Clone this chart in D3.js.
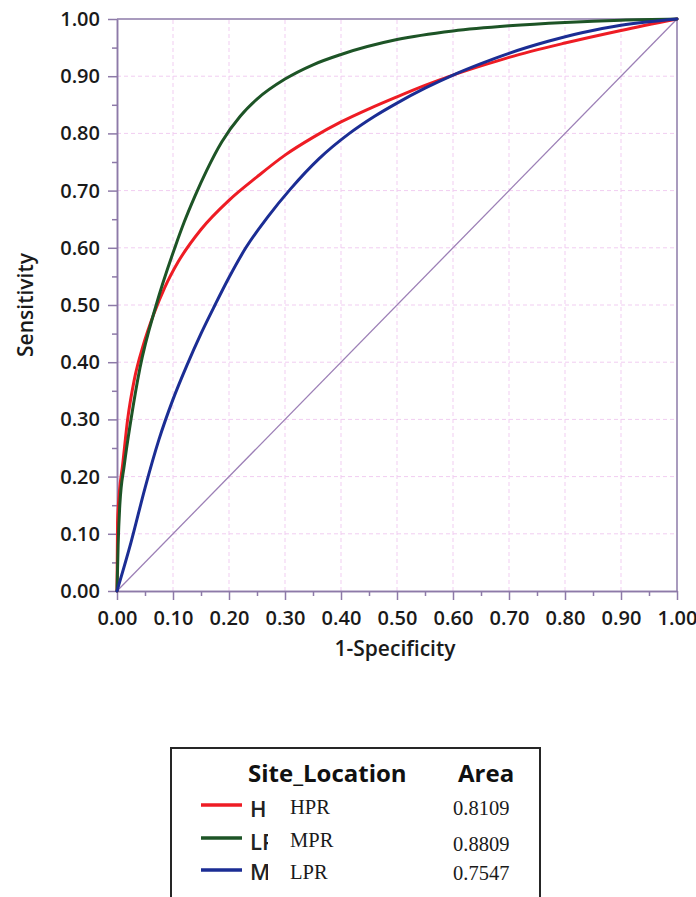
<!DOCTYPE html>
<html>
<head>
<meta charset="utf-8">
<script src="https://cdn.jsdelivr.net/npm/d3@7"></script>
<style>
  html, body { margin: 0; padding: 0; background: #ffffff; }
  svg { display: block; }
</style>
</head>
<body>
<svg id="chart" width="696" height="897"></svg>
<script>
// ROC curves by site location: false positive rate (1-Specificity) vs sensitivity
const fprHPR = [0, 0.001, 0.004, 0.01, 0.019, 0.031, 0.047, 0.066, 0.085, 0.109, 0.15, 0.2, 0.25, 0.3, 0.35, 0.4, 0.45, 0.5, 0.55, 0.6, 0.65, 0.7, 0.8, 0.9, 1];
const tprHPR = [0, 0.12, 0.17, 0.22, 0.3, 0.37, 0.43, 0.485, 0.53, 0.575, 0.632, 0.683, 0.724, 0.762, 0.793, 0.82, 0.843, 0.864, 0.884, 0.902, 0.918, 0.933, 0.958, 0.98, 1];

const fprMPR = [0, 0.002, 0.005, 0.013, 0.025, 0.041, 0.07, 0.105, 0.12, 0.139, 0.16, 0.187, 0.22, 0.25, 0.3, 0.35, 0.4, 0.5, 0.6, 0.7, 0.8, 0.9, 1];
const tprMPR = [0, 0.08, 0.15, 0.22, 0.3, 0.39, 0.5, 0.605, 0.645, 0.69, 0.735, 0.785, 0.83, 0.86, 0.895, 0.92, 0.938, 0.964, 0.979, 0.988, 0.994, 0.998, 1];

const fprLPR = [0, 0.025, 0.05, 0.075, 0.1, 0.125, 0.15, 0.175, 0.2, 0.23, 0.27, 0.31, 0.36, 0.415, 0.46, 0.5, 0.55, 0.6, 0.65, 0.7, 0.77, 0.83, 0.9, 1];
const tprLPR = [0, 0.085, 0.18, 0.265, 0.335, 0.395, 0.45, 0.5, 0.548, 0.6, 0.655, 0.703, 0.755, 0.8, 0.83, 0.853, 0.879, 0.902, 0.922, 0.94, 0.961, 0.976, 0.989, 1];

const majorTicks = [0, 0.1, 0.2, 0.3, 0.4, 0.5, 0.6, 0.7, 0.8, 0.9, 1.0];
const minorTicks = [0.05, 0.15, 0.25, 0.35, 0.45, 0.55, 0.65, 0.75, 0.85, 0.95];

// Legend rows (truncated level column, name, area under curve)
const legendLevels = ["HPR", "LPR", "MPR"];
const legendNames = ["HPR", "MPR", "LPR"];
const legendAreas = ["0.8109", "0.8809", "0.7547"];

const colors = { HPR: "#ee1c24", MPR: "#1d5426", LPR: "#1b2d94" };
const series = [
  { key: "HPR", fpr: fprHPR, tpr: tprHPR },
  { key: "MPR", fpr: fprMPR, tpr: tprMPR },
  { key: "LPR", fpr: fprLPR, tpr: tprLPR }
];
const legendColors = [colors.HPR, colors.MPR, colors.LPR];

const svg = d3.select("#chart");
const x = d3.scaleLinear().domain([0, 1]).range([117, 677]);
const y = d3.scaleLinear().domain([0, 1]).range([591, 19]);
const axisColor = "#8d7aa8";
const fmt = d3.format(".2f");
const sansFont = "'Open Sans', 'Noto Sans', sans-serif";
const serifFont = "'Liberation Serif', 'DejaVu Serif', serif";

// Grid
const grid = svg.append("g");
grid.selectAll("line.gx").data(majorTicks.slice(1, -1)).join("line")
  .attr("x1", d => x(d)).attr("x2", d => x(d))
  .attr("y1", y(0)).attr("y2", y(1))
  .attr("stroke", "#f1cdf1").attr("stroke-width", 1).attr("stroke-dasharray", "4,3");
grid.selectAll("line.gy").data(majorTicks.slice(1, -1)).join("line")
  .attr("y1", d => y(d)).attr("y2", d => y(d))
  .attr("x1", x(0)).attr("x2", x(1))
  .attr("stroke", "#f1cdf1").attr("stroke-width", 1).attr("stroke-dasharray", "4,3");

// Frame (top and right)
svg.append("line").attr("x1", x(0)).attr("x2", x(1)).attr("y1", y(1)).attr("y2", y(1))
  .attr("stroke", axisColor).attr("stroke-width", 1.5);
svg.append("line").attr("x1", x(1)).attr("x2", x(1)).attr("y1", y(0)).attr("y2", y(1))
  .attr("stroke", axisColor).attr("stroke-width", 1.5);

// Axes
function styleAxis(g) {
  g.select(".domain").attr("stroke", axisColor).attr("stroke-width", 1.5);
  g.selectAll(".tick line").attr("stroke", axisColor).attr("stroke-width", 1.5);
  g.selectAll(".tick text").attr("fill", "#1a1a1a")
    .attr("font-family", sansFont).attr("font-size", 20).attr("font-weight", 600);
}

svg.append("g").attr("transform", `translate(${x(0)},0)`)
  .call(d3.axisLeft(y).tickValues(minorTicks).tickSize(5).tickSizeOuter(0).tickFormat(""))
  .call(styleAxis);
svg.append("g").attr("transform", `translate(${x(0)},0)`)
  .call(d3.axisLeft(y).tickValues(majorTicks).tickSize(9).tickSizeOuter(0).tickPadding(8).tickFormat(fmt))
  .call(styleAxis);

svg.append("g").attr("transform", `translate(0,${y(0)})`)
  .call(d3.axisBottom(x).tickValues(minorTicks).tickSize(5).tickSizeOuter(0).tickFormat(""))
  .call(styleAxis);
svg.append("g").attr("transform", `translate(0,${y(0)})`)
  .call(d3.axisBottom(x).tickValues(majorTicks).tickSize(9).tickSizeOuter(0).tickPadding(11).tickFormat(fmt))
  .call(styleAxis);

// Axis titles
svg.append("text").attr("x", 395).attr("y", 656).attr("text-anchor", "middle")
  .attr("font-family", sansFont).attr("font-size", 21).attr("font-weight", 600).attr("fill", "#1a1a1a")
  .text("1-Specificity");
svg.append("text").attr("transform", "translate(33,305) rotate(-90)").attr("text-anchor", "middle")
  .attr("font-family", sansFont).attr("font-size", 21).attr("font-weight", 600).attr("fill", "#1a1a1a")
  .text("Sensitivity");

// Reference diagonal
svg.append("line").attr("x1", x(0)).attr("y1", y(0)).attr("x2", x(1)).attr("y2", y(1))
  .attr("stroke", "#9c7fb6").attr("stroke-width", 1.3);

// ROC curves
const line = d3.line()
  .x(d => x(d[0])).y(d => y(d[1]))
  .curve(d3.curveMonotoneX);
series.forEach(s => {
  const pts = s.fpr.map((f, i) => [f, s.tpr[i]]);
  svg.append("path").datum(pts)
    .attr("d", line)
    .attr("fill", "none")
    .attr("stroke", colors[s.key])
    .attr("stroke-width", 3)
    .attr("stroke-linejoin", "round")
    .attr("stroke-linecap", "round");
});

// Legend
const lg = svg.append("g");
lg.append("rect").attr("x", 171).attr("y", 748).attr("width", 369).attr("height", 200)
  .attr("fill", "#ffffff").attr("stroke", "#262626").attr("stroke-width", 2);
lg.append("text").attr("x", 248).attr("y", 782)
  .attr("font-family", sansFont).attr("font-size", 24).attr("font-weight", 700).attr("fill", "#111")
  .text("Site_Location");
lg.append("text").attr("x", 458).attr("y", 782)
  .attr("font-family", sansFont).attr("font-size", 24).attr("font-weight", 700).attr("fill", "#111")
  .text("Area");

// The level column is narrow, so its names are cut off
svg.append("defs").append("clipPath").attr("id", "levelClip")
  .append("rect").attr("x", 240).attr("y", 780).attr("width", 28).attr("height", 117);

const lineYs = [805, 838, 870];
const levelYs = [817, 850, 880];
const nameYs = [814, 847, 879];
const areaYs = [815, 851, 880];

legendLevels.forEach((lev, i) => {
  lg.append("line").attr("x1", 201).attr("x2", 242).attr("y1", lineYs[i]).attr("y2", lineYs[i])
    .attr("stroke", legendColors[i]).attr("stroke-width", 3.5);
  lg.append("text").attr("x", 250).attr("y", levelYs[i]).attr("clip-path", "url(#levelClip)")
    .attr("font-family", sansFont).attr("font-size", 22).attr("font-weight", 600).attr("fill", "#222")
    .text(lev.slice(0, 2));
  lg.append("text").attr("x", 290).attr("y", nameYs[i])
    .attr("font-family", serifFont).attr("font-size", 20.5).attr("fill", "#1a1a1a")
    .text(legendNames[i]);
  lg.append("text").attr("x", 453).attr("y", areaYs[i])
    .attr("font-family", serifFont).attr("font-size", 20.5).attr("fill", "#1a1a1a")
    .text(legendAreas[i]);
});
</script>
</body>
</html>
